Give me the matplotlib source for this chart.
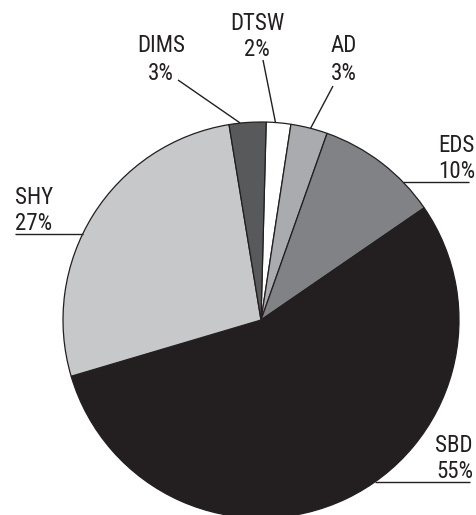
import numpy as np
import matplotlib
matplotlib.use("Agg")
import matplotlib.pyplot as plt

labels = ["DTSW", "AD", "EDS", "SBD", "SHY", "DIMS"]
values = [2, 3, 10, 55, 27, 3]
colors = ["#ffffff", "#a9abae", "#808285", "#231f20", "#c7c8ca", "#58595b"]

W, H = 476, 515
fig = plt.figure(figsize=(W / 100, H / 100), dpi=100)
ax = fig.add_axes([0, 0, 1, 1])

cx, cy_px, r = 261, 320, 198
cy = H - cy_px
start = 88.5

ax.pie(values, colors=colors, startangle=start, counterclock=False,
       center=(cx, cy), radius=r, frame=True,
       wedgeprops=dict(edgecolor="#231f20", linewidth=0.9))
ax.set_xlim(0, W)
ax.set_ylim(0, H)
ax.set_aspect("equal")
ax.axis("off")

fam = ["Roboto Condensed", "PT Sans Narrow", "DejaVu Sans"]
fs = 16.5
tc = "#231f20"

def Y(p):
    return H - p

def edge(angle_cw_from_top):
    a = np.deg2rad(angle_cw_from_top)
    return cx + r * np.sin(a), cy + r * np.cos(a)

pct = dict(zip(labels, values))

# radial leaders: (label, text center x, name y, pct y, leader outer point, angle)
radial = [
    ("DIMS", 161, 45, 73, (178, 80), -6.0),
    ("DTSW", 257, 23, 49, (263, 60), 4.2),
    ("AD", 344, 45, 73, (333, 86), 14.5),
]
for name, tx, ny, py, (ox, oy), ang in radial:
    ax.text(tx, Y(ny), name, ha="center", va="center", fontsize=fs, family=fam, color=tc)
    ax.text(tx, Y(py), f"{pct[name]}%", ha="center", va="center", fontsize=fs, family=fam, color=tc)
    ex, ey = edge(ang)
    ax.plot([ox, ex], [Y(oy), ey], color="#231f20", lw=1.0, solid_capstyle="butt")

# horizontal leaders: (label, side, text anchor x, name y, pct y, line y, far x)
horiz = [
    ("EDS", "right", 475, 145, 171, 182, 469),
    ("SBD", "right", 473, 445, 471, 482, 470),
    ("SHY", "left", 15, 197, 223, 234, 82),
]
for name, side, tx, ny, py, ly, fx in horiz:
    ha = "right" if side == "right" else "left"
    ax.text(tx, Y(ny), name, ha=ha, va="center", fontsize=fs, family=fam, color=tc)
    ax.text(tx, Y(py), f"{pct[name]}%", ha=ha, va="center", fontsize=fs, family=fam, color=tc)
    dy = ly - cy_px
    dx = np.sqrt(max(r * r - dy * dy, 0))
    if side == "right":
        ex = cx + dx
        ax.plot([ex, fx], [Y(ly), Y(ly)], color="#231f20", lw=1.0, solid_capstyle="butt")
    else:
        ex = cx - dx
        ax.plot([tx, ex], [Y(ly), Y(ly)], color="#231f20", lw=1.0, solid_capstyle="butt")

fig.savefig("out.png", dpi=100)
